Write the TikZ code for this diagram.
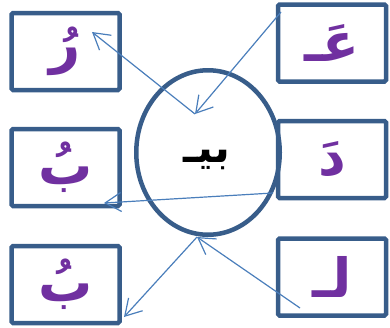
\documentclass[tikz,border=0pt]{standalone}
\usepackage{fontspec}
\usepackage{tikz}
\usetikzlibrary{arrows.meta,shapes.geometric}
\TeXXeTstate=1
\newfontfamily\arabicfont[Script=Arabic]{DejaVu Sans}
\definecolor{frameblue}{RGB}{56,93,138}
\definecolor{linkblue}{RGB}{74,126,187}
\definecolor{harfpurple}{RGB}{112,48,160}
\tikzset{
  harfbox/.style={draw=frameblue,line width=4.5pt,rounded corners=1.5pt,
    minimum width=108pt,minimum height=77pt,inner sep=0pt,text=harfpurple,
    font=\arabicfont\bfseries\fontsize{54}{60}\selectfont},
  link/.style={linkblue,line width=1.2pt,-{Straight Barb[length=16pt,width=19pt]}}
}

\begin{document}
\begin{tikzpicture}[x=1pt,y=-1pt]
  \useasboundingbox (0,0) rectangle (390,327);
  % letter boxes
  \foreach \n/\x/\y/\h in {ra/65.5/51.5/رُ, ba/65.5/167.5/بُ, bb/65.5/284.5/بُ,
                            ain/332/43/عَـ, dal/332/159.5/دَ, lam/332/277/لـ}
    \node[harfbox] (\n) at (\x,\y) {\beginR\h\endR};
  % centre syllable
  \node[ellipse,draw=frameblue,line width=4.5pt,minimum width=143.5pt,
    minimum height=164.5pt,inner sep=0pt] (hub) at (208,152.5) {};
  \node[font=\arabicfont\bfseries\fontsize{42}{48}\selectfont] (word) at (207,160) {\beginR بيـ\endR};
  % arrow ends
  \coordinate (meet) at (195,114);
  \coordinate (ratip) at (92,32);
  \coordinate (ainfoot) at (281,12);
  \coordinate (dalfoot) at (273,193);
  \coordinate (batip) at (104,203);
  \coordinate (low) at (197,237);
  \coordinate (bbtip) at (124,317);
  \coordinate (lamfoot) at (300,308);
  \draw[link] (meet) -- (ratip);
  \draw[link] (ainfoot) -- (meet);
  \draw[link] (dalfoot) -- (batip);
  \draw[link] (low) -- (bbtip);
  \draw[link] (lamfoot) -- (low);
\end{tikzpicture}
\end{document}
